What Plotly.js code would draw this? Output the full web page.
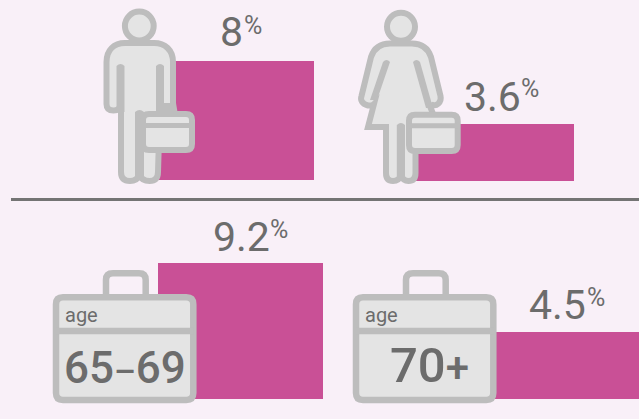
<!DOCTYPE html>
<html><head><meta charset="utf-8">
<script src="https://cdn.plot.ly/plotly-3.0.1.min.js"></script>
<style>html,body{margin:0;padding:0;background:#f9f0f8;overflow:hidden}</style>
</head><body><div id="chart" style="width:639px;height:419px"></div>
<script>
const categories = ["men", "women", "age 65–69", "age 70+"];
const shares = [8, 3.6, 9.2, 4.5];
const valueLabels = ["8", "3.6", "9.2", "4.5"];
const ageGroups = ['65<span style="font-size:34px">–</span>69', '70<span style="font-size:42px">+</span>'];

const W = 639, H = 419;
const BG = "#f9f0f8", BAR = "#c95096", GREY = "#bdbdbd", LIGHT = "#e4e4e4", INK = "#6c6c6c";
const px = x => x / W, py = y => 1 - y / H;

// pixel box of each bar panel: left, right, top, bottom
const boxes = [[150, 314, 61, 180], [410, 574, 124, 181], [158, 323, 263, 399], [480, 639, 332, 399]];

const traces = categories.map((c, i) => ({
  type: "bar", x: [c], y: [shares[i]], width: 1, hoverinfo: "skip",
  marker: {color: BAR, line: {width: 0}},
  xaxis: "x" + (i + 1), yaxis: "y" + (i + 1)
}));

const layout = {
  width: W, height: H, autosize: false,
  margin: {l: 0, r: 0, t: 0, b: 0, pad: 0},
  paper_bgcolor: BG, plot_bgcolor: "rgba(0,0,0,0)",
  showlegend: false, bargap: 0, shapes: [], annotations: []
};
boxes.forEach((b, i) => {
  const n = i + 1;
  layout["xaxis" + n] = {visible: false, fixedrange: true, type: "category", range: [-0.5, 0.5],
    domain: [px(b[0]), px(b[1])], anchor: "y" + n};
  layout["yaxis" + n] = {visible: false, fixedrange: true, range: [0, shares[i]],
    domain: [py(b[3]), py(b[2])], anchor: "x" + n};
});

function paperPath(d) {
  let isX = true;
  return d.replace(/-?\d+(\.\d+)?/g, m => {
    const v = isX ? px(+m) : py(+m);
    isX = !isX;
    return v.toFixed(5);
  });
}
function path(d, fill, stroke, w) {
  layout.shapes.push({type: "path", xref: "paper", yref: "paper", path: paperPath(d),
    fillcolor: fill, line: {color: stroke || "rgba(0,0,0,0)", width: w || 0}});
}
function circle(cx, cy, r) {
  layout.shapes.push({type: "circle", xref: "paper", yref: "paper",
    x0: px(cx - r), x1: px(cx + r), y0: py(cy + r), y1: py(cy - r),
    fillcolor: LIGHT, line: {color: GREY, width: 6}});
}
function rr(x0, y0, x1, y1, r) {
  return `M${x0 + r} ${y0} L${x1 - r} ${y0} Q${x1} ${y0} ${x1} ${y0 + r} L${x1} ${y1 - r} Q${x1} ${y1} ${x1 - r} ${y1} L${x0 + r} ${y1} Q${x0} ${y1} ${x0} ${y1 - r} L${x0} ${y0 + r} Q${x0} ${y0} ${x0 + r} ${y0} Z`;
}
function stripe(x0, y0, x1, y1, x2, y2, x3, y3) {
  const mx = (x0 + x1) / 2, my = Math.min(y0, y1) - 4;
  path(`M${x0} ${y0} Q${mx} ${my} ${x1} ${y1} L${x2} ${y2} L${x3} ${y3} Z`, GREY);
}
function text(t, x, y, size, weight) {
  layout.annotations.push({text: t, xref: "paper", yref: "paper", x: px(x), y: py(y),
    xanchor: "left", yanchor: "middle", showarrow: false, borderpad: 0, borderwidth: 0,
    font: {family: "Roboto, sans-serif", size: size, color: INK, weight: weight || 400}});
}
function briefcase(x0, y0, x1, y1, band) {
  path(rr(x0, y0, x1, y1, 6), LIGHT, GREY, 6);
  path(`M${x0} ${band} L${x1} ${band}`, "rgba(0,0,0,0)", GREY, 5);
}

// rule between the two rows
path("M11 199.5 L639 199.5", "rgba(0,0,0,0)", "#747474", 3);

// man
circle(139.3, 26, 14.4);
path("M106.5 62 C106.5 50 114 43 125 43 L154 43 C165 43 173 50 173 62 L173 106 L160 106 L158 172 Q158 181 149.5 181 Q142 181 139.5 175 Q137 181 130 181 Q121 181 121 172 L121 104 Q120 110.5 113.5 110.5 Q106.5 110.5 106.5 104 Z", LIGHT, GREY, 6);
stripe(116.5, 66, 124.5, 66, 124.5, 112, 116.5, 112);
stripe(156, 66, 164, 66, 164, 112, 156, 112);
stripe(135, 112, 144, 112, 144, 176, 135, 176);
path("M163 103 L176 103 L177.5 112 L163 112 Z", GREY);
briefcase(143, 114, 192, 150, 125.5);

// woman
circle(401, 26.7, 14);
path("M390 43.5 L412 43.5 C422 43.5 428 48 431 57 L440.5 96 C442 103 436 106 433 105 L430 106 L438 127 L415.5 127 L415.5 173 Q415.5 181 408.5 181 Q403 181 401 175 Q399 181 393 181 Q386 181 386 173 L386 127 L368 127 L374 104 Q372 106 368 105.5 C362 104 360 100 361.5 96 L371 57 C374 48 380 43.5 390 43.5 Z", LIGHT, GREY, 6);
stripe(383, 62, 390, 62, 377, 100, 370, 100);
stripe(413, 62, 420, 62, 433, 108, 426, 108);
stripe(396.8, 125, 405, 125, 405, 176, 396.8, 176);
briefcase(409, 114.7, 457.7, 151, 125.8);

// age suitcases
[0, 300].forEach(dx => {
  path(`M${106 + dx} 298 L${106 + dx} 280 Q${106 + dx} 273.3 ${113 + dx} 273.3 L${139 + dx} 273.3 Q${145.7 + dx} 273.3 ${145.7 + dx} 280 L${145.7 + dx} 298`, "rgba(0,0,0,0)", GREY, 6.5);
  path(rr(56 + dx, 297.3, 193.3 + dx, 400, 7), LIGHT, GREY, 6.5);
  path(`M${56 + dx} 331 L${193.3 + dx} 331`, "rgba(0,0,0,0)", GREY, 6.5);
  text("age", 65 + dx, 315, 20);
});
text(ageGroups[0], 64, 368, 44, 500);
text(ageGroups[1], 390, 365, 49, 500);

// value labels with their percent signs
const labelAt = [[220, 32, 244, 26], [464, 97, 521, 89], [213, 237, 270, 230], [529, 305, 587, 297]];
valueLabels.forEach((v, i) => {
  const p = labelAt[i];
  text(v, p[0], p[1], 41);
  text("%", p[2], p[3], 25);
});

Plotly.newPlot("chart", traces, layout, {staticPlot: true, displayModeBar: false});
</script></body></html>
